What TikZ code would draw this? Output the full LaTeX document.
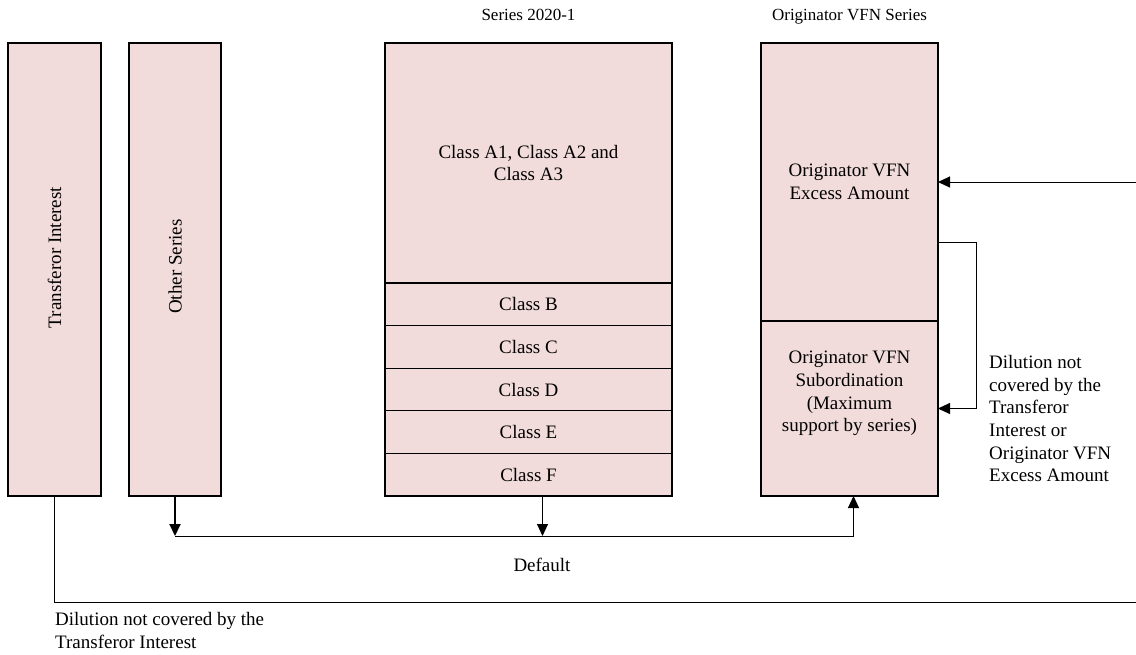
\documentclass[tikz,border=0pt]{standalone}
\usepackage{fontspec}
\setmainfont{Liberation Serif}
\usepackage{tikz}
\usetikzlibrary{arrows.meta}
\usetikzlibrary{positioning}
\definecolor{tranche}{HTML}{F2DCDB}
\newcommand\txtsize{\fontsize{19pt}{22.7pt}\selectfont}
\newcommand\ttlsize{\fontsize{17pt}{22.7pt}\selectfont}
\tikzset{
    every picture/.style={x=1pt,y=-1pt},
    box/.style={draw, line width=1.2pt, fill=tranche, anchor=north west,
          inner sep=0pt, outer sep=0pt, align=center, font=\txtsize},
    lbl/.style={inner sep=0pt, align=left, font=\txtsize},
    arr/.style={-{Triangle[length=12pt,width=11pt]}, line width=1pt},
}

\begin{document}
\begin{tikzpicture}
    \useasboundingbox (0,0) rectangle (1136,654);
    % left columns
    \node[box, minimum width=93pt, minimum height=453pt] (ti) at (8,43) {};
    \node[rotate=90, font=\txtsize] at ([yshift=12pt]ti.center) {Transferor Interest};
    \node[box, minimum width=92pt, minimum height=453pt] (os) at (129,43) {};
    \node[rotate=90, font=\txtsize] at ([yshift=3pt]os.center) {Other Series};
    % series 2020-1
    \node[box, minimum width=287pt, minimum height=240pt] (clA) at (385,43)
        {Class A1, Class A2 and\\Class A3};
    \node[box, minimum width=287pt, minimum height=42.6pt] (clB) at (clA.south west) {Class B};
    \node[box, minimum width=287pt, minimum height=42.6pt] (clC) at (clB.south west) {Class C};
    \node[box, minimum width=287pt, minimum height=42.6pt] (clD) at (clC.south west) {Class D};
    \node[box, minimum width=287pt, minimum height=42.6pt] (clE) at (clD.south west) {Class E};
    \node[box, minimum width=287pt, minimum height=42.6pt] (clF) at (clE.south west) {Class F};
    \node[font=\ttlsize, anchor=base] (s2020) at ([yshift=23pt]clA.north) {Series 2020-1};
    % originator vfn
    \node[box, minimum width=177pt, minimum height=278pt] (vfnX) at (761,43)
        {Originator VFN\\Excess Amount};
    \node[box, minimum width=177pt, minimum height=175pt] (vfnS) at (vfnX.south west) {};
    \node[font=\txtsize, align=center] at ([yshift=15pt]vfnS.center)
        {Originator VFN\\Subordination\\(Maximum\\support by series)};
    \node[font=\ttlsize, anchor=base] (vfnT) at ([yshift=23pt]vfnX.north) {Originator VFN Series};
    % default
    \coordinate (dl) at ([yshift=-40pt]os.south);
    \draw[arr, line width=2pt] (os.south) -- (dl);
    \draw[arr] (dl) -| ([xshift=4pt]vfnS.south);
    \draw[arr] ([xshift=14pt]clF.south) -- ([xshift=14pt]clF.south |- dl);
    \node[font=\txtsize, anchor=base] (dflt) at (542,571) {Default};
    % dilution
    \coordinate (ed) at (1136,602);
    \draw[line width=1pt] (ti.south) |- (ed);
    \node[lbl, anchor=north west] (dti) at (55,612)
        {Dilution not covered by the\\Transferor Interest};
    \coordinate (er) at (1136,182);
    \draw[arr] (er) -- (vfnX.east);
    \coordinate (lp) at (976,242);
    \draw[arr] ([yshift=-60pt]vfnX.east) -| (lp |- vfnS.east) -- (vfnS.east);
    \node[lbl, anchor=north west] (dvfn) at (989,355)
        {Dilution not\\covered by the\\Transferor\\Interest or\\Originator VFN\\Excess Amount};
\end{tikzpicture}
\end{document}
